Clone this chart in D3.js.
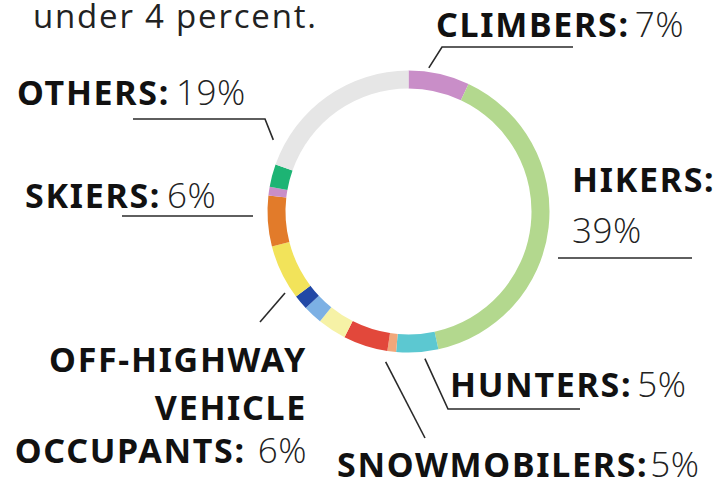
<!DOCTYPE html>
<html>
<head>
<meta charset="utf-8">
<script src="https://cdn.jsdelivr.net/npm/d3@7"></script>
<style>
  body { margin: 0; background: #fff; }
  .lab { font-family: "Noto Sans", "Open Sans", sans-serif; font-weight: 700; font-size: 34px; letter-spacing: 1.7px; fill: #111; }
  .pct { font-family: "Open Sans", "Noto Sans", sans-serif; font-weight: 300; font-size: 35px; letter-spacing: 0.5px; fill: #222; }
  .lead { fill: none; stroke: #2a2a2a; stroke-width: 1.6; }
</style>
</head>
<body>
<div id="chart"></div>
<script>
// share of search & rescue subjects, clockwise from the top
const groups = ["climbers", "hikers", "hunters", "other1", "snowmobilers", "other2", "other3", "other4",
                "ohv", "skiers", "other5", "other6", "others"];
const shares = [7, 39.6, 4.8, 1, 5.1, 3.3, 2.2, 1.7, 6.3, 5.8, 1, 2.6, 19.6];
const colors = ["#c98ec8", "#b3d88e", "#5cc8d1", "#f2a77a", "#e2483b", "#f6f2a6", "#7cb0e4", "#2148a6",
                "#f2e35a", "#e27b2a", "#c98ec8", "#1db474", "#e6e6e6"];

const width = 718;
const height = 484;
const cx = 408.5, cy = 211.5;
const outer = 141, inner = 123;

const svg = d3.select("#chart")
              .append("svg")
              .attr("width", width)
              .attr("height", height);

const pie = d3.pie().sort(null).value(d => d);
const arcs = pie(shares);
const arc = d3.arc().innerRadius(inner).outerRadius(outer);

const ring = svg.append("g").attr("transform", "translate(" + cx + "," + cy + ")");
ring.selectAll("path")
    .data(arcs)
    .enter()
    .append("path")
    .attr("d", arc)
    .attr("fill", (d, i) => colors[i]);

// point just outside the ring, part-way through a segment
function ringPoint(i, frac, gap) {
  const a = arcs[i].startAngle + frac * (arcs[i].endAngle - arcs[i].startAngle);
  const r = outer + gap;
  return [cx + r * Math.sin(a), cy - r * Math.cos(a)];
}

// leader lines: elbow points, then the ring end
const leaders = [
  {seg: 0, frac: 0.32, gap: 4,  pts: [[573, 47], [442, 47]]},
  {seg: 12, frac: 0.12, gap: 12, pts: [[133, 119], [265, 119]]},
  {seg: 2, frac: 0.34, gap: 7,  pts: [[580, 409], [448, 409]]},
  {seg: 4, frac: 0.0, gap: 11, pts: [[425, 438]]},
  {seg: 8, frac: 0.16, gap: 7,  pts: [[260, 322]]},
  {seg: null, pts: [[558, 258], [692, 258]]},
  {seg: null, pts: [[122, 216], [253, 216]]}
];

const line = d3.line();
svg.selectAll("path.lead")
   .data(leaders)
   .enter()
   .append("path")
   .attr("class", "lead")
   .attr("d", d => {
     const p = d.pts.slice();
     if (d.seg !== null) p.push(ringPoint(d.seg, d.frac, d.gap));
     return line(p);
   });

// the tail end of the intro sentence above the chart
svg.append("text")
   .attr("x", 33).attr("y", 28)
   .attr("font-family", "'Open Sans', 'Noto Sans', sans-serif")
   .attr("font-size", 33)
   .attr("letter-spacing", "1.8px")
   .attr("fill", "#222")
   .text("under 4 percent.");

function label(x, y, anchor, name, pct, gapDx) {
  const t = svg.append("text")
               .attr("class", "lab")
               .attr("x", x).attr("y", y)
               .attr("text-anchor", anchor);
  t.append("tspan").text(name);
  if (pct) t.append("tspan").attr("class", "pct").attr("dx", gapDx).text(pct);
  return t;
}

label(436, 37, "start", "CLIMBERS:", "7%", 5);
label(572, 192, "start", "HIKERS:");
svg.append("text").attr("class", "pct").attr("x", 572).attr("y", 243).text("39%");
label(17, 105, "start", "OTHERS:", "19%", 6);
label(25, 208, "start", "SKIERS:", "6%", 6);
label(307, 372, "end", "OFF-HIGHWAY");
label(307, 420, "end", "VEHICLE");
label(307, 463, "end", "OCCUPANTS:", "6%", 12);
label(450, 397, "start", "HUNTERS:", "5%", 5);
label(337, 477, "start", "SNOWMOBILERS:", "5%", 2);
</script>
</body>
</html>
